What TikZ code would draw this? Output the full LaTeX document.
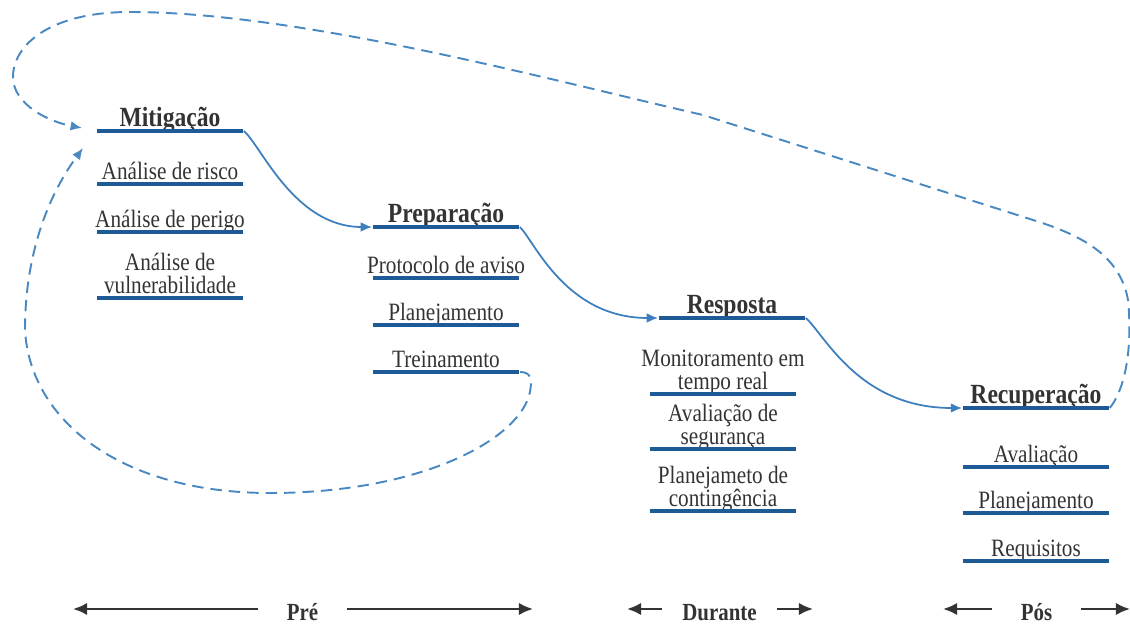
\documentclass[tikz,border=0pt]{standalone}
\usepackage{fontspec}
\setmainfont{Liberation Serif}[FakeStretch=0.85]
\usetikzlibrary{arrows.meta}
\definecolor{barblue}{HTML}{1E5A96}
\definecolor{flowblue}{HTML}{3D7EBE}
\definecolor{dashblue}{HTML}{4A88C2}
\definecolor{ink}{HTML}{333333}

\begin{document}
\begin{tikzpicture}[x=0.02cm,y=-0.02cm]
  \tikzset{
  underline/.style={append after command={([xshift=-1.47cm]\tikzlastnode.south)
      edge[draw=barblue,line width=2.5pt] ([xshift=1.47cm]\tikzlastnode.south)}},
  head/.style={anchor=south,inner sep=0pt,text depth=2.2pt,minimum width=2.94cm,
      text=ink,font=\fontsize{15.8}{17}\selectfont\bfseries,underline},
  item/.style={anchor=south,inner sep=0pt,text depth=2.4pt,minimum width=2.94cm,
      align=center,text=ink,font=\fontsize{14.2}{13.2}\selectfont,underline},
  flow/.style={draw=flowblue,line width=1pt,-{Latex[length=6.5pt,width=5.5pt]}},
  back/.style={draw=dashblue,line width=1.1pt,dash pattern=on 6.5pt off 4pt,
      -{Latex[length=6.5pt,width=5.5pt]}},
  phase label/.style={anchor=base,inner ysep=0pt,inner xsep=16pt,text=ink,
      font=\fontsize{14}{16}\selectfont\bfseries},
  phase/.style={draw=ink,line width=1.3pt,-{Latex[length=8pt,width=7pt]}},
  }
  \useasboundingbox (0,0) rectangle (1130,624);

  % the four phases and their tasks
  \node[head] (mit) at (170,131) {Mitigação};
  \foreach \i/\y/\t in {1/184/Análise de risco, 2/232/Análise de perigo,
      3/298/{Análise de\\vulnerabilidade}}
    \node[item] (mit-\i) at (170,\y) {\t};

  \node[head] (prep) at (446,227) {Preparação};
  \foreach \i/\y/\t in {1/278/Protocolo de aviso, 2/325/Planejamento, 3/372/Treinamento}
    \node[item] (prep-\i) at (446,\y) {\t};

  \node[head] (resp) at (732,318) {Resposta};
  \foreach \i/\y/\t in {1/394/{Monitoramento em\\tempo real}, 2/449/{Avaliação de\\segurança},
      3/511/{Planejameto de\\contingência}}
    \node[item] (resp-\i) at (723,\y) {\t};

  \node[head] (recu) at (1036,408) {Recuperação};
  \foreach \i/\y/\t in {1/467/Avaliação, 2/513/Planejamento, 3/561/Requisitos}
    \node[item] (recu-\i) at (1036,\y) {\t};

  % the flow from one phase to the next
  \draw[flow] (mit.south east) .. controls +(17,14) and +(-78,0) .. (prep.south west);
  \draw[flow] (prep.south east) .. controls +(14,13) and +(-93,0) .. (resp.south west);
  \draw[flow] (resp.south east) .. controls +(19,17) and +(-103,0) .. (recu.south west);

  % the loops back to mitigation
  \coordinate (low-in) at (83,148);
  \coordinate (top-in) at (82,128);
  \draw[back] (prep-3.south east) .. controls +(12,0) and +(2,-12) .. (530,392)
    .. controls (520,440) and (420,493) .. (270,493)
    .. controls (120,493) and (30,420) .. (25,330)
    .. controls (25,260) and (45,200) .. (low-in);
  \draw[back] (recu.south east) .. controls +(18,-23) and +(4,40) .. (1128,300)
    .. controls (1120,255) and (1081,235) .. (1033,220) -- (703,115)
    .. controls (550,80) and (300,12) .. (130,12)
    .. controls (50,12) and (13,45) .. (13,77)
    .. controls (13,105) and (50,122) .. (top-in);

  % the time line
  \node[phase label] (pre) at (302.5,621) {Pré};
  \node[phase label,inner xsep=11.5pt] (dur) at (719.5,621) {Durante};
  \node[phase label] (pos) at (1036.5,621) {Pós};
  \coordinate (pre-a) at (73,609);
  \coordinate (pre-b) at (533,609);
  \coordinate (dur-a) at (627,609);
  \coordinate (dur-b) at (813,609);
  \coordinate (pos-a) at (943,609);
  \coordinate (pos-b) at (1130,609);
  \draw[phase] (pre.west |- pre-a) -- (pre-a);
  \draw[phase] (pre.east |- pre-b) -- (pre-b);
  \draw[phase] (dur.west |- dur-a) -- (dur-a);
  \draw[phase] (dur.east |- dur-b) -- (dur-b);
  \draw[phase] (pos.west |- pos-a) -- (pos-a);
  \draw[phase] (pos.east |- pos-b) -- (pos-b);
\end{tikzpicture}
\end{document}
